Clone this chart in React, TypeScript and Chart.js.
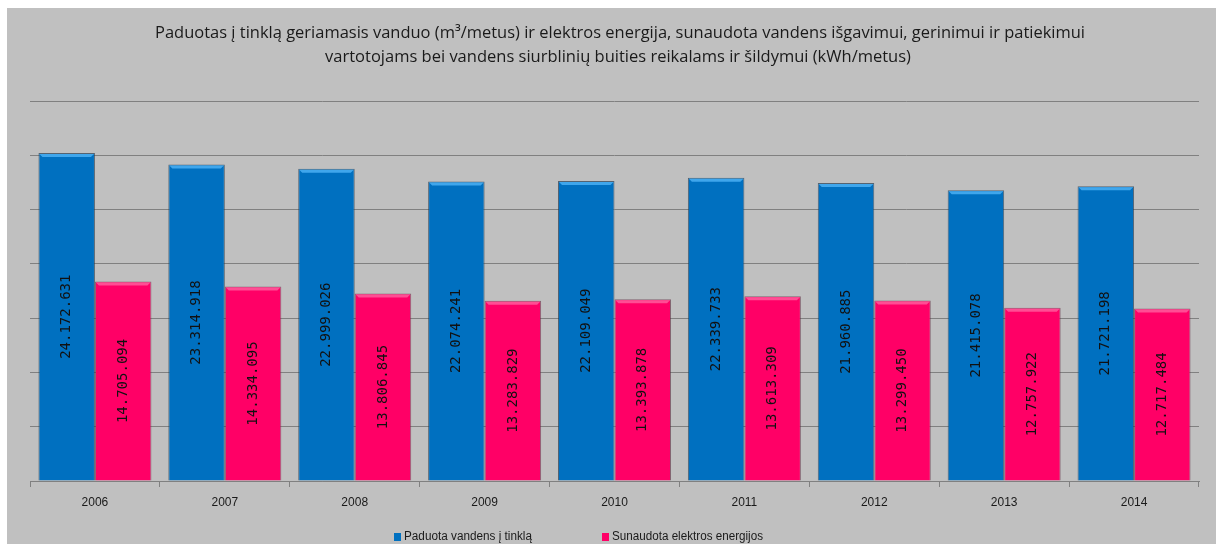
import React, { useEffect, useRef } from "react";
import { Chart, registerables } from "chart.js";

Chart.register(...registerables);

const years = ["2006", "2007", "2008", "2009", "2010", "2011", "2012", "2013", "2014"];
const waterSupplied = [24172631, 23314918, 22999026, 22074241, 22109049, 22339733, 21960885, 21415078, 21721198];
const energyUsed = [14705094, 14334095, 13806845, 13283829, 13393878, 13613309, 13299450, 12757922, 12717484];
const seriesNames = ["Paduota vandens į tinklą", "Sunaudota elektros energijos"];
const titleLines = [
  "Paduotas į tinklą geriamasis vanduo (m³/metus) ir elektros energija, sunaudota vandens išgavimui, gerinimui ir patiekimui",
  "vartotojams bei vandens siurblinių buities reikalams ir šildymui (kWh/metus)",
];
const yMax = 28000000;
const yStep = 4000000;

const BLUE = "#0070C0";
const BLUE_TOP = "#3FA6EC";
const PINK = "#FF0066";
const PINK_TOP = "#FF4D94";

const fmt = (v: number) => String(v).replace(/\B(?=(\d{3})+(?!\d))/g, ".");

// Lighter bevel strip along the top of every bar, value text rotated inside each bar
const barDecor = {
  id: "barDecor",
  afterDatasetsDraw(chart: any) {
    const ctx = chart.ctx;
    const tops = [BLUE_TOP, PINK_TOP];
    chart.data.datasets.forEach((ds: any, di: number) => {
      const meta = chart.getDatasetMeta(di);
      meta.data.forEach((bar: any, i: number) => {
        const { x, y, base, width } = bar.getProps(["x", "y", "base", "width"], true);
        const l = x - width / 2;
        const r = x + width / 2;
        ctx.save();
        ctx.fillStyle = tops[di];
        ctx.beginPath();
        ctx.moveTo(l + 1, y + 1);
        ctx.lineTo(r - 1, y + 1);
        ctx.lineTo(r - 4, y + 4);
        ctx.lineTo(l + 4, y + 4);
        ctx.closePath();
        ctx.fill();
        ctx.restore();

        ctx.save();
        ctx.translate(x, (y + base) / 2);
        ctx.rotate(-Math.PI / 2);
        ctx.font = "14px 'DejaVu Sans Mono'";
        ctx.fillStyle = "#111";
        ctx.textAlign = "center";
        ctx.textBaseline = "middle";
        ctx.fillText(fmt(ds.data[i]), 0, 0);
        ctx.restore();
      });
    });
  },
};

// Two-line heading and the bottom legend
const frameText = {
  id: "frameText",
  afterDraw(chart: any) {
    const ctx = chart.ctx;
    ctx.save();
    ctx.fillStyle = "#1a1a1a";
    ctx.textBaseline = "middle";
    ctx.textAlign = "center";
    ctx.font = "16.5px 'Open Sans'";
    ctx.fillText(titleLines[0], 613, 25, 930);
    ctx.fillText(titleLines[1], 611, 49, 588);

    const items = [
      { x: 387, w: 128, color: BLUE },
      { x: 595, w: 151, color: PINK },
    ];
    ctx.textAlign = "left";
    ctx.font = "12px 'Liberation Sans'";
    items.forEach((it, k) => {
      ctx.fillStyle = it.color;
      ctx.fillRect(it.x, 525, 7, 8);
      ctx.fillStyle = "#1a1a1a";
      ctx.fillText(seriesNames[k], it.x + 10, 529, it.w);
    });
    ctx.restore();
  },
};

export default function App() {
  const ref = useRef<HTMLCanvasElement | null>(null);

  useEffect(() => {
    if (!ref.current) return;
    const chart = new Chart(ref.current, {
      type: "bar",
      data: {
        labels: years,
        datasets: [
          {
            label: seriesNames[0],
            data: waterSupplied,
            backgroundColor: BLUE,
            borderColor: "rgba(40,60,80,0.7)",
            borderWidth: 1,
          },
          {
            label: seriesNames[1],
            data: energyUsed,
            backgroundColor: PINK,
            borderColor: "rgba(90,40,60,0.6)",
            borderWidth: 1,
          },
        ],
      },
      options: {
        responsive: false,
        animation: false,
        layout: { padding: { left: 23, right: 17, top: 93, bottom: 33 } },
        datasets: { bar: { categoryPercentage: 0.87, barPercentage: 1 } },
        plugins: {
          legend: { display: false },
          title: { display: false },
          tooltip: { enabled: false },
        },
        scales: {
          x: {
            grid: {
              display: true,
              offset: true,
              drawOnChartArea: false,
              tickLength: 6,
              color: "#808080",
            },
            border: { display: true, color: "#808080" },
            ticks: {
              color: "#1a1a1a",
              font: { family: "'Liberation Sans'", size: 12 },
              padding: 8,
            },
            afterFit(scale: any) {
              scale.height = 30;
            },
          },
          y: {
            min: 0,
            max: yMax,
            ticks: { display: false, stepSize: yStep },
            grid: { color: "#808080", drawTicks: false },
            border: { display: false },
            afterFit(scale: any) {
              scale.width = 0;
            },
          },
        },
      },
      plugins: [barDecor, frameText],
    });
    return () => chart.destroy();
  }, []);

  return (
    <div style={{ position: "absolute", left: 7, top: 8, width: 1209, height: 536 }}>
      <canvas ref={ref} width={1209} height={536} style={{ background: "#C0C0C0", display: "block" }} />
    </div>
  );
}
